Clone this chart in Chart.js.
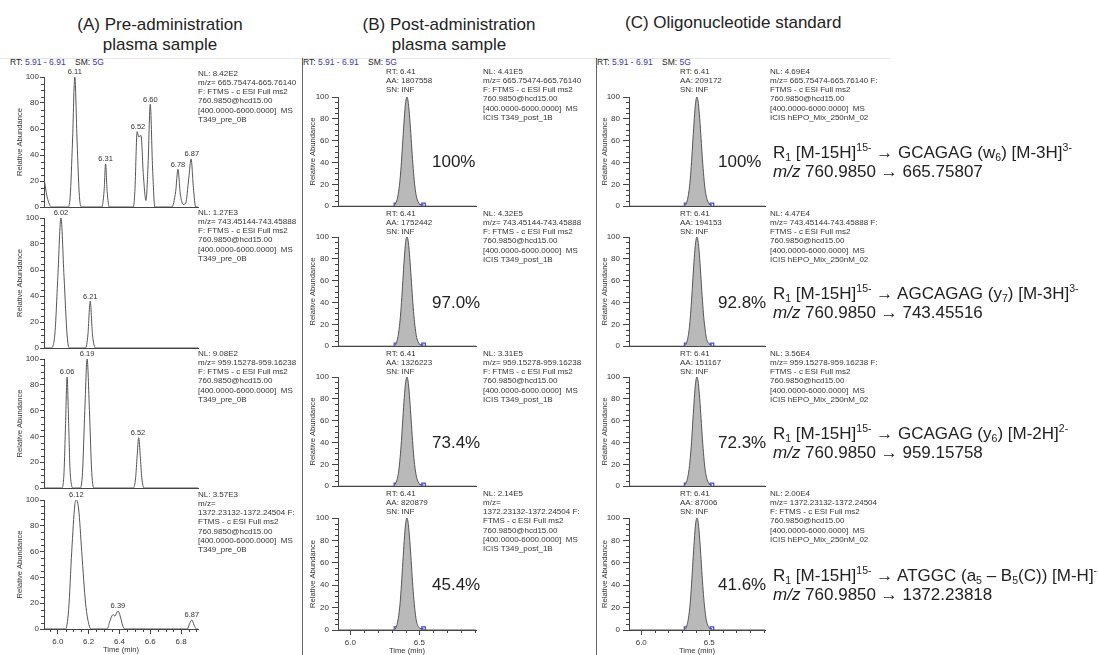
<!DOCTYPE html>
<html lang="en">
<head>
<meta charset="utf-8">
<title>Cromatogramas SRM</title>
<script src="https://cdn.jsdelivr.net/npm/chart.js@4.4.1/dist/chart.umd.min.js"></script>
<style>
  body { margin: 0; width: 1099px; height: 655px; overflow: hidden; background: #fff; position: relative;
         font-family: "Liberation Sans", Arial, sans-serif; color: #222; }
  canvas { position: absolute; }
  .t { position: absolute; white-space: nowrap; }
  .title { font-size: 17px; line-height: 20px; text-align: center; transform: translateX(-50%); }
  .titleL { font-size: 17px; line-height: 20px; }
  .hdr { font-size: 8.5px; line-height: 10px; }
  .hdr b { font-weight: normal; color: #3a3aa8; }
  .info { font-size: 8px; line-height: 9.3px; color: #333; }
  .pct { font-size: 17px; line-height: 20px; }
  .ann { font-size: 17px; line-height: 19px; }
  .ann sup, .ann sub { font-size: 62%; line-height: 0; position: relative; vertical-align: baseline; }
  .ann sup { top: -0.65em; }
  .ann sub { top: 0.3em; }
  .vline { position: absolute; width: 1px; background: #666; }
  .hline { position: absolute; height: 1px; background: #e6e6e6; }
</style>
</head>
<body>
<script>
/* Rango y ticks de los ejes */
const timeRange = [5.91, 6.91];
const yTicks = [0, 20, 40, 60, 80, 100];
const xTicksA = [6.0, 6.2, 6.4, 6.6, 6.8];
const xTicksBC = [6.0, 6.5];

/* (A) Pre-administration: tiempo (min) y abundancia relativa (%) de cada trazo */
const preTime1  = [5.91, 5.93, 5.95, 5.96, 6.065, 6.08, 6.095, 6.11, 6.125, 6.14, 6.155, 6.285, 6.30, 6.31, 6.32, 6.335, 6.49, 6.50, 6.515, 6.525, 6.54, 6.555, 6.572, 6.585, 6.60, 6.615, 6.63, 6.74, 6.765, 6.78, 6.795, 6.815, 6.83, 6.85, 6.865, 6.88, 6.895, 6.91];
const preAbund1 = [22, 8, 1, 0, 0, 8, 50, 100, 50, 8, 0, 0, 12, 33, 12, 0, 0, 12, 58, 54, 55, 25, 5, 30, 79, 30, 0, 0, 12, 29, 10, 2, 3, 22, 37, 15, 0, 0];
const preTime2  = [5.91, 5.955, 5.98, 6.0, 6.02, 6.04, 6.06, 6.075, 6.18, 6.195, 6.21, 6.225, 6.245, 6.91];
const preAbund2 = [0, 0, 10, 55, 100, 55, 10, 0, 0, 10, 36, 10, 0, 0];
const preTime3  = [5.91, 6.025, 6.04, 6.05, 6.06, 6.07, 6.08, 6.10, 6.145, 6.16, 6.175, 6.19, 6.205, 6.22, 6.235, 6.49, 6.505, 6.515, 6.525, 6.535, 6.545, 6.56, 6.91];
const preAbund3 = [0, 0, 12, 50, 86, 50, 12, 0, 0, 12, 60, 100, 60, 12, 0, 0, 8, 25, 39, 25, 8, 0, 0];
const preTime4  = [5.91, 6.05, 6.07, 6.09, 6.11, 6.12, 6.135, 6.155, 6.18, 6.205, 6.22, 6.32, 6.335, 6.35, 6.36, 6.37, 6.39, 6.405, 6.42, 6.435, 6.84, 6.855, 6.87, 6.885, 6.9, 6.91];
const preAbund4 = [0, 0, 15, 60, 96, 100, 93, 60, 20, 2, 0, 0, 5, 10, 11, 10, 14, 10, 3, 0, 0, 4, 7, 3, 0, 0];

/* etiquetas de picos (tiempo y altura) */
const preLabelT1 = [6.11, 6.31, 6.52, 6.60, 6.78, 6.87];
const preLabelY1 = [100, 33, 58, 79, 29, 37];
const preLabelT2 = [6.02, 6.21];
const preLabelY2 = [100, 36];
const preLabelT3 = [6.06, 6.19, 6.52];
const preLabelY3 = [86, 100, 39];
const preLabelT4 = [6.12, 6.39, 6.87];
const preLabelY4 = [100, 14, 7];

/* (B) Post-administration y (C) estandar: un pico a 6.41 min */
const postTime   = [5.91, 6.31, 6.33, 6.34, 6.35, 6.36, 6.37, 6.38, 6.39, 6.40, 6.41, 6.42, 6.43, 6.44, 6.45, 6.46, 6.47, 6.48, 6.50, 6.53, 6.91];
const postAbund1 = [0, 0, 3, 7, 14, 25, 41, 61, 80, 95, 100, 94, 80, 62, 43, 27, 15, 8, 2, 0, 0];
const postAbund2 = [0, 0, 2, 6, 13, 24, 40, 60, 80, 95, 100, 95, 81, 63, 44, 28, 16, 8, 2, 0, 0];
const postAbund3 = [0, 0, 3, 7, 14, 26, 42, 62, 81, 95, 100, 94, 79, 61, 42, 26, 15, 8, 2, 0, 0];
const postAbund4 = [0, 0, 2, 6, 13, 24, 41, 61, 80, 95, 100, 94, 80, 62, 43, 27, 15, 7, 2, 0, 0];
const postBase   = [6.33, 6.53];

const stdTime   = [5.91, 6.31, 6.33, 6.34, 6.35, 6.36, 6.37, 6.38, 6.39, 6.40, 6.41, 6.42, 6.43, 6.44, 6.45, 6.46, 6.47, 6.48, 6.50, 6.53, 6.91];
const stdAbund1 = [0, 0, 2, 6, 13, 24, 41, 61, 80, 95, 100, 94, 80, 62, 43, 27, 15, 8, 2, 0, 0];
const stdAbund2 = [0, 0, 2, 6, 13, 25, 42, 62, 81, 95, 100, 94, 80, 61, 42, 26, 15, 7, 2, 0, 0];
const stdAbund3 = [0, 0, 3, 7, 14, 25, 41, 61, 80, 95, 100, 94, 80, 62, 43, 27, 15, 8, 2, 0, 0];
const stdAbund4 = [0, 0, 2, 6, 13, 24, 41, 61, 80, 95, 100, 95, 81, 63, 44, 28, 16, 8, 2, 0, 0];
const stdBase   = [6.33, 6.52];

/* textos de cada panel */
const mzRanges = ['665.75474-665.76140', '743.45144-743.45888', '959.15278-959.16238', '1372.23132-1372.24504'];
const nlA = ['8.42E2', '1.27E3', '9.08E2', '3.57E3'];
const nlB = ['4.41E5', '4.32E5', '3.31E5', '2.14E5'];
const nlC = ['4.69E4', '4.47E4', '3.56E4', '2.00E4'];
const aaB = ['1807558', '1752442', '1326223', '820879'];
const aaC = ['209172', '194153', '151167', '87006'];
const pctB = ['100%', '97.0%', '73.4%', '45.4%'];
const pctC = ['100%', '92.8%', '72.3%', '41.6%'];
const fragments = [
  ['GCAGAG (w<sub>6</sub>) [M-3H]<sup>3-</sup>', '665.75807'],
  ['AGCAGAG (y<sub>7</sub>) [M-3H]<sup>3-</sup>', '743.45516'],
  ['GCAGAG (y<sub>6</sub>) [M-2H]<sup>2-</sup>', '959.15758'],
  ['ATGGC (a<sub>5</sub> &ndash; B<sub>5</sub>(C)) [M-H]<sup>-</sup>', '1372.23818']
];

const fontFam = '"Liberation Sans", Arial, sans-serif';
const axisColor = '#444';

/* posicion de los paneles en la pagina */
const rowsA  = [[77, 207], [218, 348], [359, 488], [500, 629]];
const rowsBC = [[97, 208], [237, 348], [377, 488], [518, 630]];

function put(x, y, html, cls) {
  const d = document.createElement('div');
  d.className = 't ' + cls;
  d.innerHTML = html;
  d.style.left = x + 'px';
  d.style.top = y + 'px';
  document.body.appendChild(d);
  return d;
}

function pts(times, vals) {
  return times.map((t, i) => ({ x: t, y: vals[i] }));
}

function makeChart(cfg) {
  const [l, t, r, b] = cfg.area;
  const axisW = Math.round(l - cfg.titleX + 6.5);
  const padTop = 12, padRight = 12;
  const padBottom = cfg.showTime ? 0 : 6;
  const xAxisH = cfg.showTime ? 25 : 0;
  const cv = document.createElement('canvas');
  cv.width = (r - l) + axisW + padRight;
  cv.height = (b - t) + padTop + xAxisH + padBottom;
  cv.style.left = (l - axisW) + 'px';
  cv.style.top = (t - padTop) + 'px';
  document.body.appendChild(cv);

  const datasets = [{
    data: pts(cfg.time, cfg.abund),
    borderColor: '#555',
    backgroundColor: '#b9b9b9',
    fill: cfg.fill ? 'origin' : false,
    borderWidth: 1,
    cubicInterpolationMode: 'monotone'
  }];
  if (cfg.base) {
    // linea base de integracion (ICIS) en azul
    datasets.push({
      data: cfg.base.map(v => ({ x: v, y: 1.2 })),
      borderColor: '#4646dc',
      borderWidth: 1.2,
      pointStyle: 'rect',
      pointRadius: 2.5,
      pointBorderColor: '#4646dc',
      pointBackgroundColor: 'rgba(0,0,0,0)',
      fill: false
    });
  }

  const xMinorStep = cfg.xMinor;
  const extras = {
    id: 'extras',
    afterDraw(chart) {
      const { ctx, chartArea, scales } = chart;
      ctx.save();
      ctx.strokeStyle = axisColor;
      ctx.lineWidth = 1;
      ctx.beginPath();
      // ticks menores del eje y
      for (let v = 5; v < 100; v += 5) {
        if (v % 20 === 0) continue;
        const py = Math.round(scales.y.getPixelForValue(v)) + 0.5;
        ctx.moveTo(chartArea.left - 3, py);
        ctx.lineTo(chartArea.left, py);
      }
      // ticks menores del eje x (solo fila inferior)
      if (cfg.showTime) {
        for (let k = Math.ceil(timeRange[0] / xMinorStep); k * xMinorStep <= timeRange[1] + 1e-9; k++) {
          const v = +(k * xMinorStep).toFixed(2);
          if (cfg.xTicks.some(m => Math.abs(m - v) < 1e-6)) continue;
          const px = Math.round(scales.x.getPixelForValue(v)) + 0.5;
          ctx.moveTo(px, chartArea.bottom);
          ctx.lineTo(px, chartArea.bottom + 3);
        }
      }
      ctx.stroke();
      // etiquetas de los picos
      if (cfg.labelT) {
        ctx.fillStyle = '#333';
        ctx.font = '7.5px ' + fontFam;
        ctx.textAlign = 'center';
        ctx.textBaseline = 'bottom';
        cfg.labelT.forEach((lt, i) => {
          ctx.fillText(lt.toFixed(2), scales.x.getPixelForValue(lt), scales.y.getPixelForValue(cfg.labelY[i]) - 1);
        });
      }
      ctx.restore();
    }
  };

  new Chart(cv, {
    type: 'line',
    data: { datasets },
    options: {
      responsive: false,
      animation: false,
      devicePixelRatio: 1,
      layout: { padding: { top: padTop, right: padRight, left: 0, bottom: padBottom } },
      plugins: { legend: { display: false }, tooltip: { enabled: false } },
      elements: { point: { radius: 0 } },
      scales: {
        x: {
          type: 'linear',
          min: timeRange[0],
          max: timeRange[1],
          afterBuildTicks: s => { s.ticks = cfg.xTicks.map(v => ({ value: v })); },
          afterFit: s => { s.height = xAxisH; },
          border: { color: axisColor, width: 1 },
          grid: { drawOnChartArea: false, drawTicks: cfg.showTime, tickLength: 5, color: axisColor },
          ticks: {
            display: cfg.showTime, autoSkip: false, maxRotation: 0, padding: 3, color: '#333',
            font: { family: fontFam, size: 8 },
            callback: v => v.toFixed(1)
          },
          title: {
            display: cfg.showTime, text: 'Time (min)', color: '#333',
            font: { family: fontFam, size: 7.6 }, padding: { top: 0, bottom: 0 }
          }
        },
        y: {
          min: 0,
          max: 100,
          afterBuildTicks: s => { s.ticks = yTicks.map(v => ({ value: v })); },
          afterFit: s => { s.width = axisW; },
          border: { color: axisColor, width: 1 },
          grid: { drawOnChartArea: false, tickLength: cfg.tickLen, color: axisColor },
          ticks: { padding: cfg.tickPad, color: '#333', font: { family: fontFam, size: 8 } },
          title: {
            display: true, text: 'Relative Abundance', color: '#333',
            font: { family: fontFam, size: 7.6 }, padding: { top: 2, bottom: 0 }
          }
        }
      }
    },
    plugins: [extras]
  });
}

/* titulos y cabeceras */
put(160, 15, '(A) Pre-administration<br>plasma sample', 'title');
put(449, 15, '(B) Post-administration<br>plasma sample', 'title');
put(625, 13, '(C) Oligonucleotide standard', 'titleL');

const hdr = 'RT: <b>5.91 - 6.91</b>&nbsp;&nbsp;&nbsp; SM: <b>5G</b>';
put(10, 57, hdr, 'hdr');
put(303, 57, hdr, 'hdr');
put(597, 57, hdr, 'hdr');

const hl = document.createElement('div');
hl.className = 'hline';
Object.assign(hl.style, { left: '0px', top: '58px', width: '890px' });
document.body.appendChild(hl);
[302, 596].forEach(x => {
  const v = document.createElement('div');
  v.className = 'vline';
  Object.assign(v.style, { left: x + 'px', top: '58px', height: '597px' });
  document.body.appendChild(v);
});

/* columna A */
const preT = [preTime1, preTime2, preTime3, preTime4];
const preY = [preAbund1, preAbund2, preAbund3, preAbund4];
const preLT = [preLabelT1, preLabelT2, preLabelT3, preLabelT4];
const preLY = [preLabelY1, preLabelY2, preLabelY3, preLabelY4];
rowsA.forEach((row, i) => {
  makeChart({
    area: [44, row[0], 198, row[1]], titleX: 20, tickLen: 4, tickPad: 1,
    time: preT[i], abund: preY[i], fill: false,
    labelT: preLT[i], labelY: preLY[i],
    xTicks: xTicksA, xMinor: 0.05, showTime: i === 3
  });
});

/* columna B */
const postY = [postAbund1, postAbund2, postAbund3, postAbund4];
rowsBC.forEach((row, i) => {
  makeChart({
    area: [338, row[0], 476, row[1]], titleX: 313, tickLen: 6, tickPad: 3,
    time: postTime, abund: postY[i], fill: true, base: postBase,
    xTicks: xTicksBC, xMinor: 0.1, showTime: i === 3
  });
});

/* columna C */
const stdY = [stdAbund1, stdAbund2, stdAbund3, stdAbund4];
rowsBC.forEach((row, i) => {
  makeChart({
    area: [629, row[0], 765, row[1]], titleX: 605, tickLen: 6, tickPad: 3,
    time: stdTime, abund: stdY[i], fill: true, base: stdBase,
    xTicks: xTicksBC, xMinor: 0.1, showTime: i === 3
  });
});

/* bloques de informacion */
const infoTopA = [68.5, 207.5, 348.5, 489.5];
const infoTopBC = [66.5, 208.5, 348.5, 488.5];
const scan = 'F: FTMS - c ESI Full ms2';
const tail = '760.9850@hcd15.00<br>[400.0000-6000.0000]&nbsp; MS<br>';
for (let i = 0; i < 4; i++) {
  const mzA = i === 3
    ? 'm/z=<br>' + mzRanges[i] + ' F:<br>FTMS - c ESI Full ms2'
    : 'm/z= ' + mzRanges[i] + '<br>' + scan;
  put(198, infoTopA[i], 'NL: ' + nlA[i] + '<br>' + mzA + '<br>' + tail + 'T349_pre_0B', 'info');
  put(483, infoTopBC[i], 'NL: ' + nlB[i] + '<br>' + mzA + '<br>' + tail + 'ICIS T349_post_1B', 'info');
  const mzC = i === 3
    ? 'm/z= ' + mzRanges[i] + '<br>' + scan
    : 'm/z= ' + mzRanges[i] + ' F:<br>FTMS - c ESI Full ms2';
  put(770, infoTopBC[i], 'NL: ' + nlC[i] + '<br>' + mzC + '<br>' + tail + 'ICIS hEPO_Mix_250nM_02', 'info');

  put(386, infoTopBC[i], 'RT: 6.41<br>AA: ' + aaB[i] + '<br>SN: INF', 'info');
  put(680, infoTopBC[i], 'RT: 6.41<br>AA: ' + aaC[i] + '<br>SN: INF', 'info');
}

/* porcentajes y transiciones */
const pctMid = [162, 303, 443, 585];
pctMid.forEach((c, i) => {
  put(432, c - 10, pctB[i], 'pct');
  put(718, c - 10, pctC[i], 'pct');
  put(773, c - 19,
    'R<sub>1</sub> [M-15H]<sup>15-</sup> &rarr; ' + fragments[i][0] +
    '<br><i>m/z</i> 760.9850 &rarr; ' + fragments[i][1], 'ann');
});
</script>
</body>
</html>
